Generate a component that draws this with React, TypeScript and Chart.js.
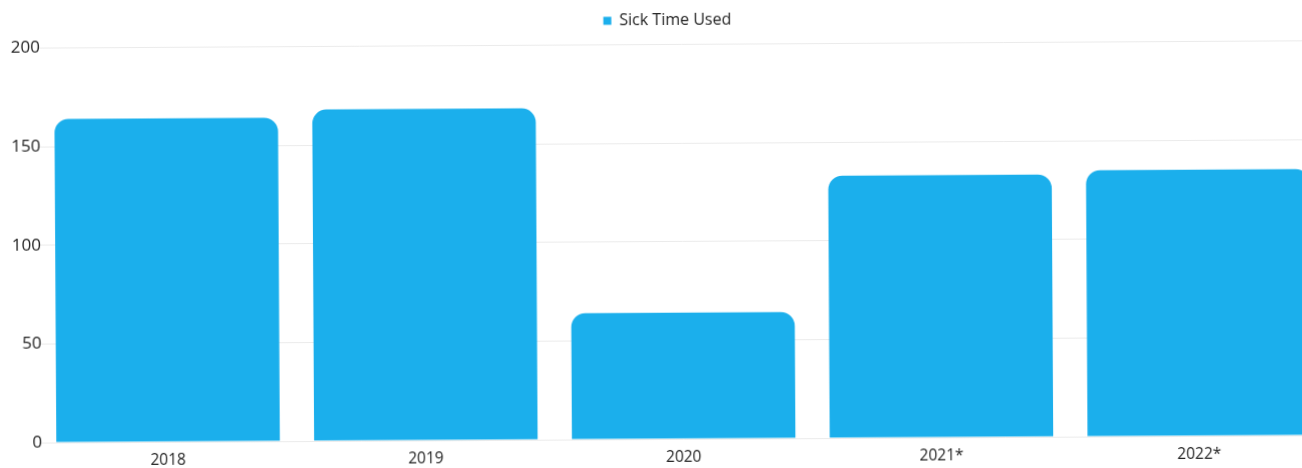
import React, { useEffect, useRef } from "react";
import { Chart, registerables } from "chart.js";

Chart.register(...registerables);

const categories = ["2018", "2019", "2020", "2021*", "2022*"];
const sickTimeUsed = [164, 168, 64, 133, 135];
const yTicks = [0, 50, 100, 150, 200];
const seriesLabel = "Sick Time Used";

const BLUE = "rgb(27,175,236)";
const CANVAS_W = 1327;
const CANVAS_H = 468;

const legendHeightPlugin = {
  id: "legendHeight",
  beforeInit(chart: any) {
    const legend = chart.legend;
    if (!legend) return;
    const origFit = legend.fit;
    legend.fit = function () {
      origFit.call(this);
      this.height = 42;
    };
  },
};

export default function App() {
  const ref = useRef<HTMLCanvasElement | null>(null);

  useEffect(() => {
    document.body.style.margin = "0";
    const canvas = ref.current;
    if (!canvas) return;
    const chart = new Chart(canvas, {
      type: "bar",
      data: {
        labels: categories,
        datasets: [
          {
            label: seriesLabel,
            data: sickTimeUsed,
            backgroundColor: BLUE,
            borderWidth: 0,
            borderRadius: 14,
            barPercentage: 0.867,
            categoryPercentage: 1,
          },
        ],
      },
      plugins: [legendHeightPlugin],
      options: {
        animation: false,
        responsive: false,
        maintainAspectRatio: false,
        layout: { padding: { left: 10, top: 2.5, right: 0, bottom: -8.6 } },
        plugins: {
          legend: {
            display: true,
            position: "top",
            labels: {
              boxWidth: 8,
              boxHeight: 8,
              padding: 10,
              color: "#222",
              font: { family: "Open Sans", size: 16 },
            },
          },
          tooltip: { enabled: false },
        },
        scales: {
          x: {
            grid: { display: false, drawTicks: false },
            border: { display: false },
            ticks: {
              color: "#222",
              padding: 9.5,
              font: { family: "Open Sans", size: 15.5 },
            },
          },
          y: {
            min: 0,
            max: 200,
            afterBuildTicks: (scale: any) => {
              scale.ticks = yTicks.map((v) => ({ value: v }));
            },
            afterFit: (scale: any) => {
              scale.width = 28;
            },
            grid: { color: "#ebebeb", drawTicks: false, lineWidth: 1 },
            border: { display: false },
            ticks: {
              color: "#222",
              mirror: true,
              crossAlign: "far",
              padding: -26.2,
              font: { family: "Open Sans", size: 17 },
            },
          },
        },
      },
    });
    return () => chart.destroy();
  }, []);

  return (
    <div style={{ width: 1302, height: 468, overflow: "hidden", position: "relative", background: "#fff" }}>
      <canvas
        ref={ref}
        width={CANVAS_W}
        height={CANVAS_H}
        style={{
          display: "block",
          width: CANVAS_W,
          height: CANVAS_H,
          transform: "rotate(-0.33deg)",
          transformOrigin: `${CANVAS_W / 2}px ${CANVAS_H / 2}px`,
        }}
      />
    </div>
  );
}
